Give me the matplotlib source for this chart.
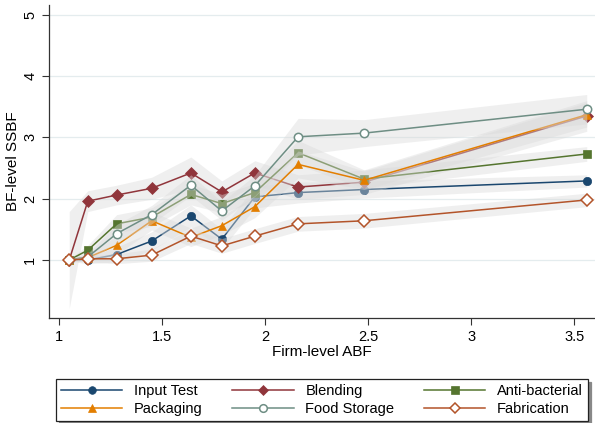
import matplotlib.pyplot as plt

plt.rcParams['font.family'] = ['Liberation Sans', 'DejaVu Sans']

# Firm-level ABF bins (x) and mean BF-level SSBF by category
abf = [1.05, 1.14, 1.28, 1.45, 1.64, 1.79, 1.95, 2.16, 2.48, 3.56]

input_test = [1.00, 1.00, 1.09, 1.31, 1.72, 1.34, 2.03, 2.10, 2.15, 2.29]
blending = [1.00, 1.96, 2.06, 2.17, 2.42, 2.11, 2.42, 2.19, 2.27, 3.35]
anti_bacterial = [1.00, 1.16, 1.59, 1.70, 2.07, 1.92, 2.10, 2.75, 2.32, 2.73]
packaging = [1.00, 1.04, 1.24, 1.64, 1.37, 1.56, 1.87, 2.56, 2.30, 3.37]
food_storage = [1.00, 1.05, 1.43, 1.74, 2.22, 1.80, 2.21, 3.01, 3.07, 3.46]
fabrication = [1.00, 1.02, 1.02, 1.08, 1.39, 1.23, 1.39, 1.59, 1.64, 1.98]

# half-widths of the confidence bands
input_test_ci = [0.02, 0.06, 0.12, 0.15, 0.18, 0.16, 0.18, 0.17, 0.14, 0.10]
blending_ci = [0.79, 0.17, 0.16, 0.18, 0.26, 0.18, 0.20, 0.20, 0.20, 0.25]
anti_bacterial_ci = [0.02, 0.08, 0.15, 0.15, 0.17, 0.15, 0.15, 0.20, 0.15, 0.12]
packaging_ci = [0.02, 0.06, 0.15, 0.15, 0.15, 0.15, 0.18, 0.22, 0.15, 0.20]
food_storage_ci = [0.02, 0.06, 0.15, 0.15, 0.17, 0.15, 0.17, 0.30, 0.22, 0.24]
fabrication_ci = [0.02, 0.05, 0.08, 0.10, 0.12, 0.12, 0.12, 0.12, 0.12, 0.11]

series = [
    ('Input Test', input_test, input_test_ci, '#1a476f', 'o', True),
    ('Blending', blending, blending_ci, '#90353b', 'D', True),
    ('Anti-bacterial', anti_bacterial, anti_bacterial_ci, '#55752f', 's', True),
    ('Packaging', packaging, packaging_ci, '#e37e00', '^', True),
    ('Food Storage', food_storage, food_storage_ci, '#6e8e84', 'o', False),
    ('Fabrication', fabrication, fabrication_ci, '#b3542a', 'D', False),
]

fig = plt.figure(figsize=(5.95, 4.23), dpi=100)
ax = fig.add_axes([0.0824, 0.2482, 0.9176, 0.74])

handles = {}
for i, (name, vals, ci, color, marker, filled) in enumerate(series):
    lo = [v - h for v, h in zip(vals, ci)]
    hi = [v + h for v, h in zip(vals, ci)]
    # each band sits over the lines drawn before it
    ax.fill_between(abf, lo, hi, color='#dadada', alpha=0.42, linewidth=0,
                    zorder=2 * i + 3)
    ms = 6.5 if marker == 'D' else 6
    ln, = ax.plot(abf, vals, color=color, linewidth=1.1, marker=marker,
                  markersize=ms, markerfacecolor=color if filled else 'white',
                  markeredgecolor=color, markeredgewidth=1.1 if not filled else 0.5,
                  label=name, zorder=2 * i + 4)
    handles[name] = ln

ax.set_xlim(0.952, 3.60)
ax.set_ylim(0.054, 5.16)
ax.set_xticks([1, 1.5, 2, 2.5, 3, 3.5])
ax.set_xticklabels(['1', '1.5', '2', '2.5', '3', '3.5'])
ax.set_yticks([1, 2, 3, 4, 5])
ax.tick_params(axis='both', labelsize=10.5, length=5, width=0.8, color='#333333')
for lab in ax.get_yticklabels():
    lab.set_rotation(90)
    lab.set_va('center')
ax.yaxis.grid(True, color='#e4ecee', linewidth=0.9, zorder=0)
ax.set_axisbelow(True)
for side in ['top', 'right']:
    ax.spines[side].set_visible(False)
for side in ['left', 'bottom']:
    ax.spines[side].set_color('#333333')
    ax.spines[side].set_linewidth(0.9)

ax.set_xlabel('Firm-level ABF', fontsize=11, labelpad=1)
ax.set_ylabel('BF-level SSBF', fontsize=11, labelpad=2)

order = ['Input Test', 'Packaging', 'Blending', 'Food Storage',
         'Anti-bacterial', 'Fabrication']
leg = fig.legend([handles[n] for n in order], order, ncol=3, mode='expand',
                 loc='lower left', bbox_to_anchor=(56 / 595, 2 / 423, 532 / 595, 51 / 423),
                 fontsize=10.5, frameon=True, fancybox=False, numpoints=1,
                 handlelength=4.2, handletextpad=0.8, borderpad=0.35,
                 labelspacing=0.25, borderaxespad=0, shadow={'color': '#888888', 'alpha': 1})
leg.get_frame().set_edgecolor('#222222')
leg.get_frame().set_linewidth(0.9)
for h in leg.legend_handles:
    h.set_markersize(5.5)

fig.savefig('out.png', dpi=100)
